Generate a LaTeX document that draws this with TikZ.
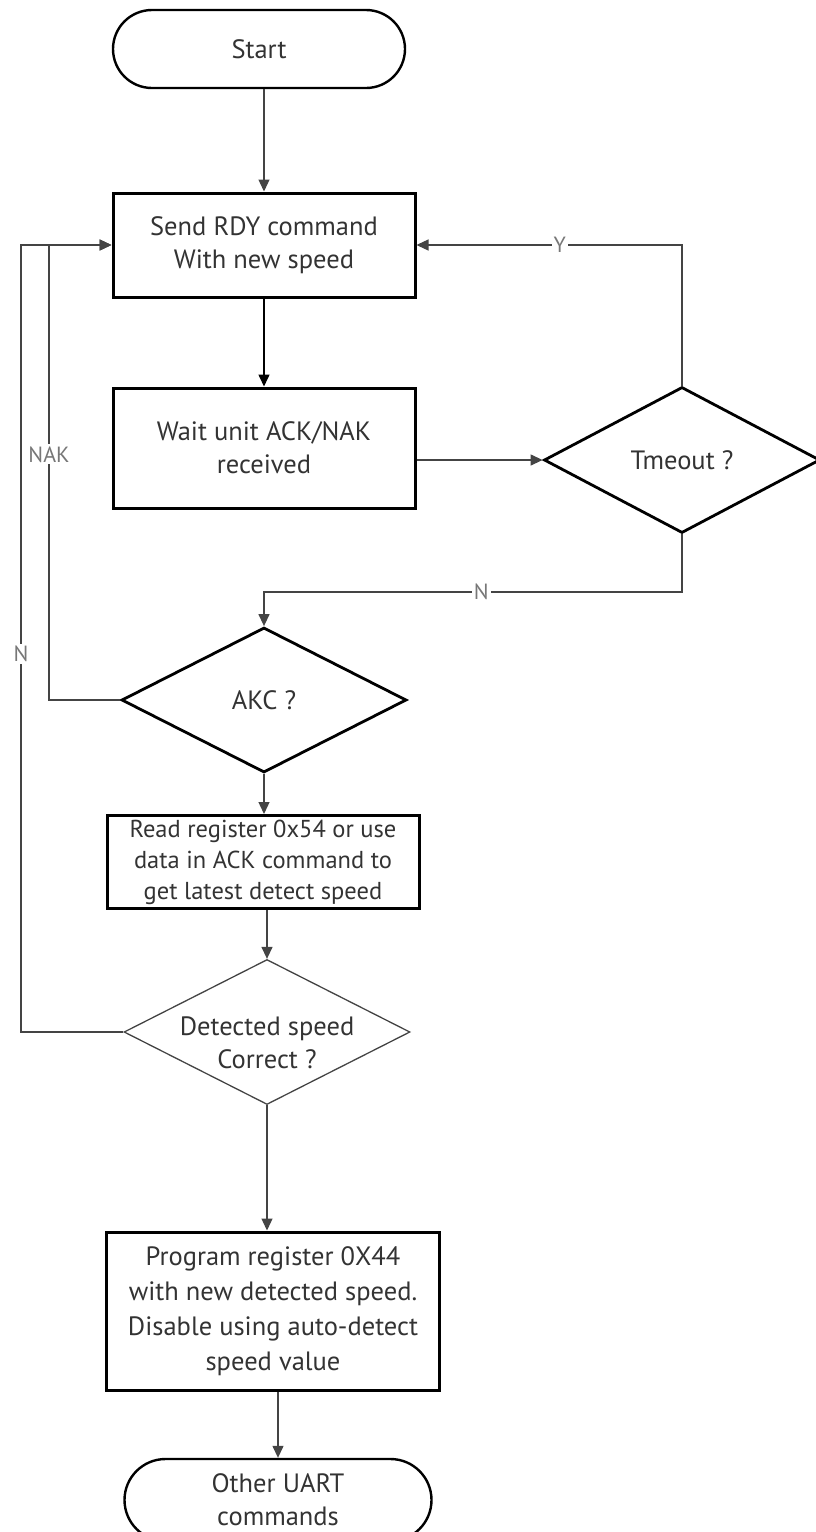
\documentclass[tikz,border=0pt]{standalone}
\usepackage{fontspec}
\setmainfont{PT Sans}
\usetikzlibrary{shapes.geometric,shapes.misc,arrows.meta}
\definecolor{txt}{HTML}{333333}
\definecolor{conn}{HTML}{444444}
\definecolor{lbl}{HTML}{777777}
\tikzset{
  x=1pt,y=-1pt,
  every node/.style={font=\fontsize{26.5}{33}\selectfont,text=txt},
  procbox/.style={draw=black,line width=3pt,rectangle,align=center,inner sep=0pt},
  term/.style={draw=black,line width=2.4pt,rounded rectangle,align=center,inner sep=0pt},
  dec/.style={draw=black,line width=2.8pt,diamond,inner sep=0pt,align=center},
  conn/.style={draw=conn,line width=1.3pt},
  arr/.style={conn,-{Triangle[length=12pt,width=11pt]}},
  lab/.style={fill=white,text=lbl,inner sep=2pt,font=\fontsize{22}{24}\selectfont},
}
\begin{document}
\begin{tikzpicture}
\useasboundingbox (0,0) rectangle (816,1532);
\node[term,minimum width=292pt,minimum height=78pt] (start) at (259,49) {Start};
\node[procbox,minimum width=302pt,minimum height=104pt] (send) at (264,245) {Send RDY command\\With new speed};
\node[procbox,minimum width=302pt,minimum height=120pt] (wait) at (264,448) {Wait unit ACK/NAK\\received};
\node[dec,minimum width=276pt,minimum height=146pt] (tmo) at (682,460) {Tmeout ?};
\node[dec,minimum width=285pt,minimum height=145pt] (akc) at (264,700) {AKC ?};
\node[procbox,minimum width=312pt,minimum height=93pt,font=\fontsize{24.5}{31}\selectfont] (read) at (263,862) {Read register 0x54 or use\\data in ACK command to\\get latest detect speed};
\node[dec,draw=conn,line width=1.3pt,minimum width=286pt,minimum height=145pt] (det) at (267,1032) {};
\node[align=center] (dettext) at (267,1043) {Detected speed\\Correct ?};
\node[procbox,minimum width=333pt,minimum height=158pt,font=\fontsize{26.5}{35}\selectfont] (prog) at (273,1311) {Program register 0X44\\with new detected speed.\\Disable using auto-detect\\speed value};
\node[term,minimum width=307pt,minimum height=82pt] (other) at (278,1500) {Other UART\\commands};
\coordinate (c1) at (49,245);
\coordinate (c2) at (21,245);
\coordinate (c3) at (264,592);
% connectors
\draw[arr] (start.south -| send.north) -- (send.north);
\draw[draw=black,line width=1.5pt,-{Triangle[length=12pt,width=11pt]}] (send) -- (wait);
\draw[arr] (wait.east |- tmo.west) -- (tmo.west);
\draw[arr] (tmo.north) |- node[lab,pos=0.73] {Y} (send.east);
\draw[arr] (tmo.south) |- node[lab,pos=0.74] {N} (c3) -- (akc.north);
\draw[arr] (akc.west) -| node[lab,pos=0.77] {NAK} (c1) -- (send.west);
\draw[arr] (akc.south) -- (akc.south |- read.north);
\draw[arr] (det.north |- read.south) -- (det.north);
\draw[arr] (det.west) -| node[lab,pos=0.74] {N} (c2) -- (send.west);
\draw[arr] (det.south) -- (det.south |- prog.north);
\draw[arr] (other.north |- prog.south) -- (other.north);
\end{tikzpicture}
\end{document}
